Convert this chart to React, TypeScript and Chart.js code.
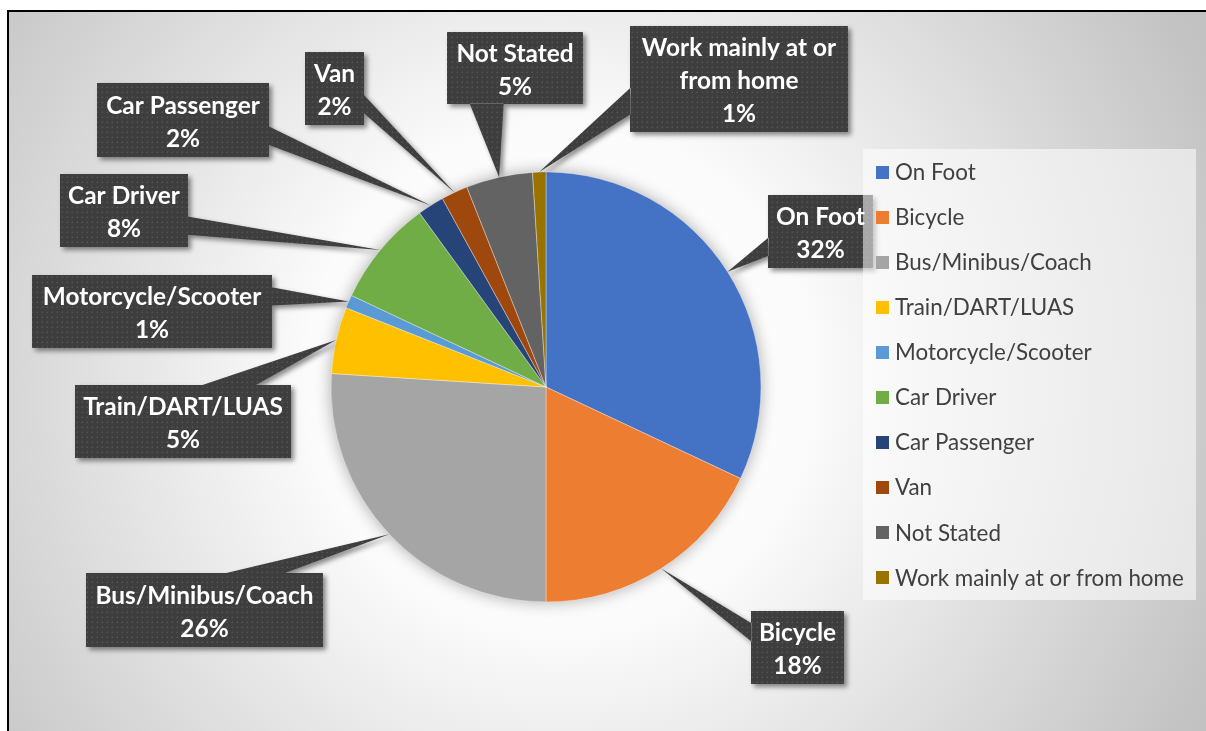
import React, { useEffect, useRef } from "react";
import { Chart, registerables } from "chart.js";

Chart.register(...registerables);

// ---- data ----
const categories = [
  "On Foot",
  "Bicycle",
  "Bus/Minibus/Coach",
  "Train/DART/LUAS",
  "Motorcycle/Scooter",
  "Car Driver",
  "Car Passenger",
  "Van",
  "Not Stated",
  "Work mainly at or from home",
];
const shares = [32, 18, 26, 5, 1, 8, 2, 2, 5, 1];
const sliceColors = [
  "#4472C4",
  "#ED7D31",
  "#A5A5A5",
  "#FFC000",
  "#5B9BD5",
  "#70AD47",
  "#264478",
  "#9E480E",
  "#636363",
  "#997300",
];

// ---- layout of the callout boxes: [x, y, w, h] ----
const calloutBoxes = [
  [768, 195, 105, 73],
  [751, 611, 93, 73],
  [86, 573, 237, 74],
  [75, 385, 216, 73],
  [32, 275, 240, 73],
  [60, 174, 128, 73],
  [97, 83, 172, 74],
  [305, 52, 59, 73],
  [447, 32, 136, 72],
  [630, 26, 218, 106],
];

const FONT = "Lato, 'Open Sans', sans-serif";

let patternCache: CanvasPattern | null = null;
function getPattern(ctx: CanvasRenderingContext2D) {
  if (patternCache) return patternCache;
  const c = document.createElement("canvas");
  c.width = 5;
  c.height = 5;
  const p = c.getContext("2d")!;
  p.fillStyle = "#3e3e3e";
  p.fillRect(0, 0, 5, 5);
  p.fillStyle = "#555555";
  p.fillRect(2, 2, 1, 1);
  p.fillStyle = "#4a4a4a";
  p.fillRect(1, 2, 1, 1);
  p.fillRect(2, 1, 1, 1);
  patternCache = ctx.createPattern(c, "repeat");
  return patternCache;
}

function calloutPath(
  ctx: CanvasRenderingContext2D,
  x: number,
  y: number,
  w: number,
  h: number,
  tx: number,
  ty: number
) {
  const cx = x + w / 2;
  const cy = y + h / 2;
  const dx = tx - cx;
  const dy = ty - cy;
  const dq = (dx * h) / w;
  ctx.beginPath();
  ctx.rect(x, y, w, h);
  const inside = tx >= x && tx <= x + w && ty >= y && ty <= y + h;
  if (!inside) {
    if (Math.abs(dy) > Math.abs(dq)) {
      const g1 = dx > 0 ? 7 : 2;
      const g2 = dx > 0 ? 10 : 5;
      const x1 = x + (w * g1) / 12;
      const x2 = x + (w * g2) / 12;
      const yb = dy > 0 ? y + h - 0.5 : y + 0.5;
      ctx.moveTo(x1, yb);
      ctx.lineTo(tx, ty);
      ctx.lineTo(x2, yb);
      ctx.closePath();
    } else {
      const g1 = dy > 0 ? 7 : 2;
      const g2 = dy > 0 ? 10 : 5;
      const y1 = y + (h * g1) / 12;
      const y2 = y + (h * g2) / 12;
      const xb = dx > 0 ? x + w - 0.5 : x + 0.5;
      ctx.moveTo(xb, y1);
      ctx.lineTo(tx, ty);
      ctx.lineTo(xb, y2);
      ctx.closePath();
    }
  }
}

function wrapText(ctx: CanvasRenderingContext2D, text: string, maxW: number) {
  const words = text.split(" ");
  const lines: string[] = [];
  let cur = "";
  for (const w of words) {
    const t = cur ? cur + " " + w : w;
    if (ctx.measureText(t).width > maxW && cur) {
      lines.push(cur);
      cur = w;
    } else cur = t;
  }
  if (cur) lines.push(cur);
  return lines;
}

const backgroundPlugin = {
  id: "bg",
  beforeDraw(chart: any) {
    const ctx = chart.ctx as CanvasRenderingContext2D;
    const W = chart.width;
    const H = chart.height;
    ctx.save();
    ctx.fillStyle = "#ffffff";
    ctx.fillRect(0, 0, W, H);
    const g = ctx.createRadialGradient(560, 380, 0, 560, 380, 720);
    g.addColorStop(0, "#ffffff");
    g.addColorStop(0.35, "#fbfbfb");
    g.addColorStop(1, "#c2c2c2");
    ctx.fillStyle = g;
    ctx.fillRect(9, 12, W, H);
    ctx.fillStyle = "#000000";
    ctx.fillRect(7, 10, W, 2);
    ctx.fillRect(7, 10, 2, H);
    ctx.restore();
  },
  beforeDatasetsDraw(chart: any) {
    const arc = chart.getDatasetMeta(0).data[0];
    if (!arc) return;
    const { x, y, outerRadius } = arc.getProps(["x", "y", "outerRadius"], true);
    const ctx = chart.ctx as CanvasRenderingContext2D;
    ctx.save();
    ctx.shadowColor = "rgba(0,0,0,0.32)";
    ctx.shadowBlur = 16;
    ctx.fillStyle = "#dddddd";
    ctx.beginPath();
    ctx.arc(x, y, outerRadius, 0, Math.PI * 2);
    ctx.fill();
    ctx.restore();
  },
};

const calloutPlugin = {
  id: "callouts",
  afterDatasetsDraw(chart: any) {
    const ctx = chart.ctx as CanvasRenderingContext2D;
    const meta = chart.getDatasetMeta(0);
    const data = chart.data.datasets[0].data as number[];
    const total = data.reduce((a, b) => a + b, 0);
    ctx.save();
    ctx.font = `bold 20px ${FONT}`;
    const ref = ctx.measureText("Bus/Minibus/Coach").width;
    const size = (20 * 218) / ref;
    const font = `bold ${size.toFixed(2)}px ${FONT}`;
    meta.data.forEach((arc: any, i: number) => {
      const { x, y, startAngle, endAngle, outerRadius } = arc.getProps(
        ["x", "y", "startAngle", "endAngle", "outerRadius"],
        true
      );
      const mid = (startAngle + endAngle) / 2;
      const tx = x + Math.cos(mid) * outerRadius;
      const ty = y + Math.sin(mid) * outerRadius;
      const [bx, by, bw, bh] = calloutBoxes[i];
      ctx.save();
      ctx.shadowColor = "rgba(0,0,0,0.45)";
      ctx.shadowBlur = 5;
      ctx.shadowOffsetX = 3;
      ctx.shadowOffsetY = 3;
      ctx.fillStyle = getPattern(ctx) || "#404040";
      calloutPath(ctx, bx, by, bw, bh, tx, ty);
      ctx.fill("nonzero");
      ctx.restore();

      ctx.font = font;
      const lines = wrapText(ctx, chart.data.labels[i], bw - 14);
      lines.push(Math.round((data[i] / total) * 100) + "%");
      const lh = 33;
      const cy = by + bh / 2 - ((lines.length - 1) * lh) / 2 + 2.5;
      ctx.fillStyle = "#ffffff";
      ctx.textAlign = "center";
      ctx.textBaseline = "middle";
      lines.forEach((ln, k) => {
        ctx.fillText(ln, bx + bw / 2, cy + k * lh);
      });
    });
    ctx.restore();
  },
};

const legendPlugin = {
  id: "customLegend",
  afterDraw(chart: any) {
    const ctx = chart.ctx as CanvasRenderingContext2D;
    const labels = chart.data.labels as string[];
    const colors = chart.data.datasets[0].backgroundColor as string[];
    ctx.save();
    ctx.fillStyle = "rgba(255,255,255,0.55)";
    ctx.fillRect(863, 149, 333, 451);
    ctx.font = `20px ${FONT}`;
    const ref = ctx.measureText("Work mainly at or from home").width;
    const size = (20 * 289) / ref;
    ctx.font = `${size.toFixed(2)}px ${FONT}`;
    ctx.textAlign = "left";
    ctx.textBaseline = "middle";
    labels.forEach((lab, i) => {
      const cy = 172 + i * 45.1;
      ctx.fillStyle = colors[i];
      ctx.fillRect(876, Math.round(cy - 6.5), 13, 13);
      ctx.fillStyle = "#404040";
      ctx.fillText(lab, 895, cy + 0.5);
    });
    ctx.restore();
  },
};

export default function App() {
  const ref = useRef<HTMLCanvasElement>(null);
  useEffect(() => {
    document.body.style.margin = "0";
    const canvas = ref.current!;
    const chart = new Chart(canvas, {
      type: "pie",
      data: {
        labels: categories,
        datasets: [
          {
            data: shares,
            backgroundColor: sliceColors,
            borderColor: "rgba(255,255,255,0.35)",
            borderWidth: 1,
          },
        ],
      },
      options: {
        responsive: false,
        animation: false,
        radius: 215,
        layout: { padding: { left: 331, right: 445, top: 172, bottom: 129 } },
        plugins: {
          legend: { display: false },
          tooltip: { enabled: false },
        },
      } as any,
      plugins: [backgroundPlugin, calloutPlugin, legendPlugin],
    });
    return () => chart.destroy();
  }, []);
  return (
    <canvas
      ref={ref}
      width={1206}
      height={731}
      style={{ display: "block", width: 1206, height: 731 }}
    />
  );
}
